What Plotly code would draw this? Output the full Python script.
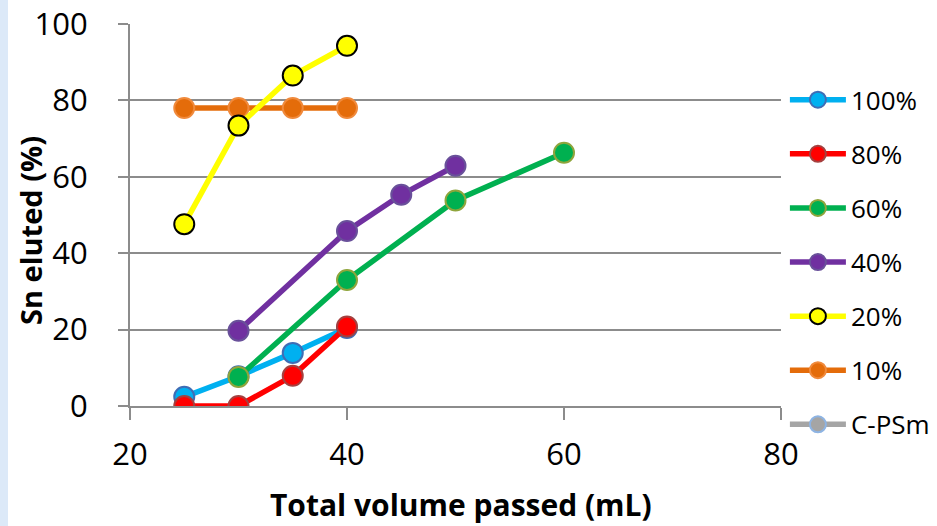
import plotly.graph_objects as go

# ---- data ----
series_names = ["100%", "80%", "60%", "40%", "20%", "10%", "C-PSm"]
x_100 = [25, 30, 35, 40]
y_100 = [2.4, 7.8, 13.9, 20.4]
x_80 = [25, 30, 35, 40]
y_80 = [0.0, 0.0, 7.9, 20.8]
x_60 = [30, 40, 50, 60]
y_60 = [7.6, 33.0, 53.8, 66.3]
x_40 = [30, 40, 45, 50]
y_40 = [19.7, 45.8, 55.3, 62.9]
x_20 = [25, 30, 35, 40]
y_20 = [47.6, 73.4, 86.5, 94.3]
x_10 = [25, 30, 35, 40]
y_10 = [78.0, 78.0, 78.0, 78.0]
x_cpsm = []
y_cpsm = []

x_ticks = [20, 40, 60, 80]
y_ticks = [0, 20, 40, 60, 80, 100]

# ---- styles ----
styles = {
    "100%": dict(line="#00B0F0", fill="#00B0F0", edge="#3F6DB5"),
    "80%": dict(line="#FF0000", fill="#FF0000", edge="#A5403F"),
    "60%": dict(line="#00B050", fill="#00B050", edge="#8FA53C"),
    "40%": dict(line="#7030A0", fill="#7030A0", edge="#69509A"),
    "20%": dict(line="#FFFF00", fill="#FFFF00", edge="#000000"),
    "10%": dict(line="#E46C0A", fill="#E46C0A", edge="#F08A3C"),
    "C-PSm": dict(line="#A5A5A5", fill="#A5A5A5", edge="#8EB4E3"),
}
data = {
    "100%": (x_100, y_100),
    "80%": (x_80, y_80),
    "60%": (x_60, y_60),
    "40%": (x_40, y_40),
    "20%": (x_20, y_20),
    "10%": (x_10, y_10),
    "C-PSm": (x_cpsm, y_cpsm),
}
draw_order = ["100%", "80%", "60%", "40%", "10%", "20%", "C-PSm"]

FONT = "'Open Sans', Lato, sans-serif"
GRID = "#8C8C8C"

fig = go.Figure()
for name in draw_order:
    xs, ys = data[name]
    st = styles[name]
    if len(xs) == 0:
        xs, ys = [None], [None]
    fig.add_trace(go.Scatter(
        x=xs, y=ys, name=name, mode="lines+markers",
        line=dict(color=st["line"], width=5.5),
        marker=dict(size=20, color=st["fill"], line=dict(color=st["edge"], width=2)),
        legendrank=series_names.index(name) + 1,
        legendgroup=name,
        showlegend=True,
    ))

fig.update_layout(
    width=937, height=526,
    margin=dict(l=130, r=156, t=24, b=120, autoexpand=False),
    paper_bgcolor="white", plot_bgcolor="white",
    font=dict(family=FONT, color="black"),
    showlegend=True,
    legend=dict(
        x=1.006, xanchor="left", y=0.863, yanchor="top",
        font=dict(size=26, family=FONT, color="black"),
        tracegroupgap=17.3, itemwidth=56,
        bgcolor="rgba(0,0,0,0)",
    ),
    xaxis=dict(
        range=[20, 80], tickvals=x_ticks, ticktext=[str(v) for v in x_ticks],
        showgrid=False, zeroline=False,
        showline=True, linecolor=GRID, linewidth=2,
        ticks="outside", ticklen=12, tickwidth=2, tickcolor=GRID,
        tickfont=dict(size=31, family=FONT, color="black"),
        ticklabelstandoff=8,
    ),
    yaxis=dict(
        range=[0, 100], tickvals=y_ticks, ticktext=[str(v) for v in y_ticks],
        showgrid=True, gridcolor=GRID, gridwidth=2, zeroline=False,
        showline=True, linecolor=GRID, linewidth=2,
        ticks="outside", ticklen=10, tickwidth=2, tickcolor=GRID,
        tickfont=dict(size=31, family=FONT, color="black"),
        ticklabelstandoff=24,
    ),
    shapes=[dict(type="rect", xref="paper", yref="paper",
                 x0=-130/651, x1=-122/651, y0=-120/382, y1=1 + 24/382,
                 fillcolor="#DCE9F8", line=dict(width=0), layer="below")],
    annotations=[
        dict(text="<b>Total volume passed (mL)</b>", xref="paper", yref="paper",
             x=(461 - 130)/651, y=(406 - 504)/382, xanchor="center", yanchor="middle", showarrow=False,
             font=dict(size=30, family=FONT, color="black")),
        dict(text="<b>Sn eluted (%)</b>", xref="paper", yref="paper",
             x=-100/651, y=(406 - 231)/382, xanchor="center", yanchor="middle", showarrow=False,
             textangle=-90, font=dict(size=29, family=FONT, color="black")),
    ],
)

fig.write_html("out.html")
